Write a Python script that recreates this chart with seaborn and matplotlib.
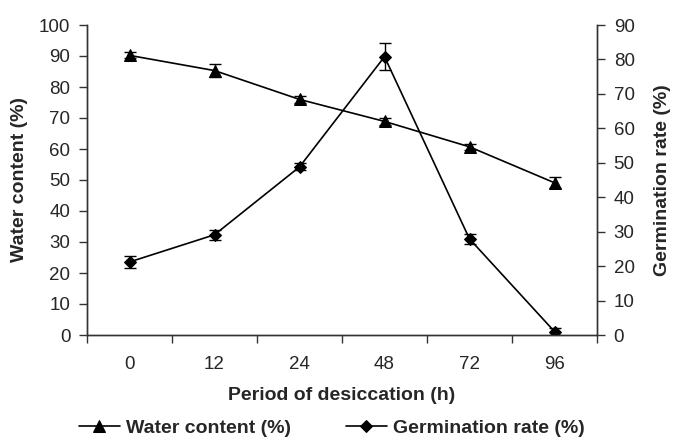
import matplotlib
matplotlib.use("Agg")
import matplotlib.pyplot as plt
import seaborn as sns
import pandas as pd
import numpy as np

periods = ["0", "12", "24", "48", "72", "96"]
water = [90.2, 85.3, 76.0, 68.9, 60.7, 49.1]
water_err = [1.0, 2.0, 1.0, 1.0, 1.0, 1.8]
germ = [21.2, 29.1, 48.8, 80.8, 27.9, 1.0]
germ_err = [1.8, 1.4, 1.0, 3.9, 1.5, 1.0]

sns.set_theme(style="ticks")
plt.rcParams['font.family'] = ['Liberation Sans', 'DejaVu Sans']

df = pd.DataFrame({"pos": np.arange(len(periods)), "period": periods,
                   "water": water, "germ": germ})

fig = plt.figure(figsize=(6.73, 4.45), dpi=100)
ax = fig.add_axes([87/673, 1-335/445, (597-87)/673, (335-25)/445])
ax2 = ax.twinx()

sns.lineplot(data=df, x="pos", y="water", ax=ax, color="black", marker="^",
             markersize=8.5, linewidth=1.2, markeredgecolor="black", label="Water content (%)", legend=False)
ax.errorbar(df["pos"], df["water"], yerr=water_err, fmt="none", ecolor="black",
            elinewidth=1.0, capsize=4, capthick=1.0)

sns.lineplot(data=df, x="pos", y="germ", ax=ax2, color="black", marker="D",
             markersize=6.5, linewidth=1.2, markeredgecolor="black", label="Germination rate (%)", legend=False)
ax2.errorbar(df["pos"], df["germ"], yerr=germ_err, fmt="none", ecolor="black",
             elinewidth=1.0, capsize=4, capthick=1.0)

ax.set_xlim(-0.5, len(periods) - 0.5)
ax.set_ylim(0, 100)
ax2.set_ylim(0, 90)
ax.set_yticks(np.arange(0, 101, 10))
ax2.set_yticks(np.arange(0, 91, 10))

ax.set_xticks(np.arange(-0.5, len(periods), 1.0))
ax.set_xticklabels([])
ax.set_xticks(np.arange(len(periods)), minor=True)
ax.set_xticklabels(periods, minor=True)
ax.tick_params(axis="x", which="minor", length=0, pad=15, labelsize=13.5)
ax.tick_params(axis="x", which="major", length=6, width=1, color="#333333")
ax.tick_params(axis="y", length=6, width=1, labelsize=13.5, color="#333333", pad=6)
ax2.tick_params(axis="y", length=6, width=1, labelsize=13.5, color="#333333", pad=6)

for a in (ax, ax2):
    a.spines["top"].set_visible(False)
    for s in ("left", "right", "bottom"):
        a.spines[s].set_color("#333333")
        a.spines[s].set_linewidth(1.0)

ax.set_xlabel("Period of desiccation (h)", fontsize=14, fontweight="bold", labelpad=10)
ax.set_ylabel("Water content (%)", fontsize=14, fontweight="bold", labelpad=8)
ax2.set_ylabel("Germination rate (%)", fontsize=14, fontweight="bold", labelpad=14)

h1 = ax.get_lines()[0]
h2 = ax2.get_lines()[0]
fig.legend([h1, h2], ["Water content (%)", "Germination rate (%)"], loc="center",
           bbox_to_anchor=(332/673, 1-428/445), ncol=2, frameon=False,
           prop={"weight": "bold", "size": 14}, handlelength=2.1,
           columnspacing=2.8, handletextpad=0.35)

fig.savefig("out.png", dpi=100)
